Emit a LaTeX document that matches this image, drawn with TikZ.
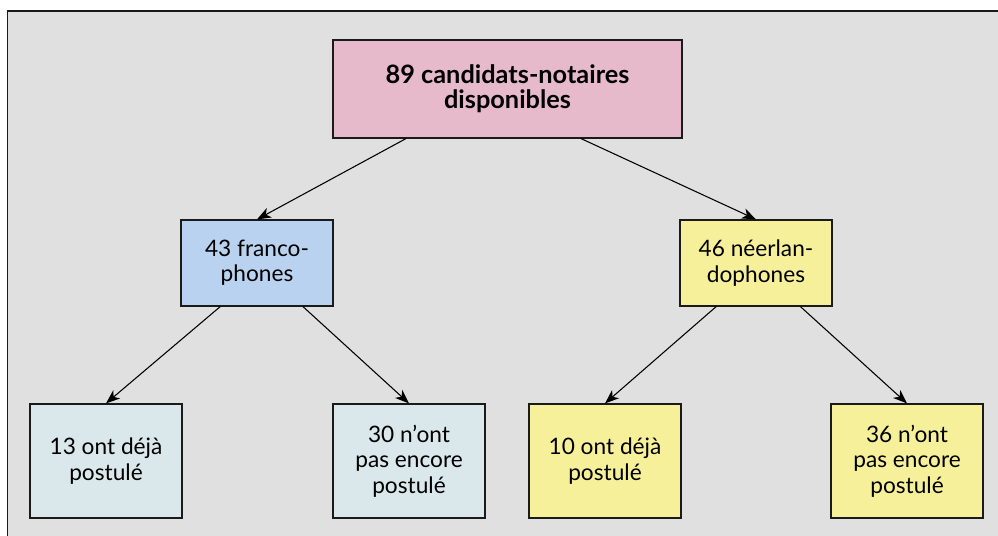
\documentclass[tikz,border=0pt]{standalone}
\usepackage{fontspec}
\setmainfont{Lato}
\usetikzlibrary{arrows.meta, calc}
\definecolor{panel}{HTML}{E0E0E0}
\definecolor{rootfill}{HTML}{E6BACB}
\definecolor{frfill}{HTML}{B9D2EF}
\definecolor{nlfill}{HTML}{F7F09A}
\definecolor{leaffill}{HTML}{DAE7EB}
\definecolor{edge}{HTML}{1A1A1A}
\tikzset{
  box/.style={draw=edge, line width=0.9pt, align=center, inner sep=2pt,
    minimum width=114pt, font=\fontsize{17}{19}\selectfont},
  rootbox/.style={box, fill=rootfill, minimum width=261.75pt, minimum height=73.5pt,
    font=\fontsize{19}{19}\selectfont\bfseries},
  midbox/.style={box, minimum height=64.5pt},
  leafbox/.style={box, minimum height=85.5pt},
  link/.style={-{Stealth[length=10.5pt, width=8pt, inset=3pt]}, draw=black, line width=0.8pt}
}

\begin{document}
\begin{tikzpicture}[x=0.75pt, y=0.75pt]

  % ---- Panel -----------------------------------------------------------------
  \useasboundingbox (0,0) rectangle (998,-535);
  \draw[fill=panel, draw=edge, line width=1.4pt] (7.5,-11) rectangle (1010,-545);

  % ---- Boxes -----------------------------------------------------------------
  \node[rootbox] (total) at (507.5,-89) {89 candidats-notaires\\disponibles};

  \node[midbox, fill=frfill] (fr) at (257,-263) {43 franco-\\phones};
  \node[midbox, fill=nlfill] (nl) at (756,-263) {46 néerlan-\\dophones};

  \node[leafbox, fill=leaffill] (frdone) at (106,-461) {13 ont déjà\\postulé};
  \node[leafbox, fill=leaffill] (frwait) at (409,-461) {30 n’ont\\pas encore\\postulé};
  \node[leafbox, fill=nlfill] (nldone) at (605,-461) {10 ont déjà\\postulé};
  \node[leafbox, fill=nlfill] (nlwait) at (907,-461) {36 n’ont\\pas encore\\postulé};

  % ---- Arrows ----------------------------------------------------------------
  \draw[link] ($(total.south west)!0.21!(total.south east)$) -- (fr.north);
  \draw[link] ($(total.south west)!0.71!(total.south east)$) -- (nl.north);
  \draw[link] ($(fr.south west)!0.26!(fr.south east)$) -- (frdone.north);
  \draw[link] ($(fr.south west)!0.80!(fr.south east)$) -- (frwait.north);
  \draw[link] ($(nl.south west)!0.24!(nl.south east)$) -- (nldone.north);
  \draw[link] ($(nl.south west)!0.79!(nl.south east)$) -- (nlwait.north);

\end{tikzpicture}
\end{document}
